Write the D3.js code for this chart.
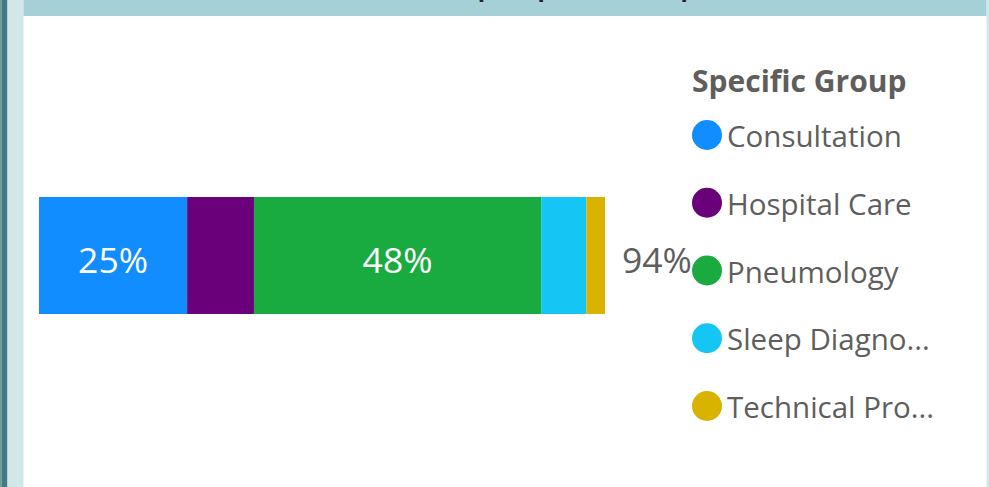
<!DOCTYPE html>
<html>
<head>
<meta charset="utf-8">
<script src="https://cdn.jsdelivr.net/npm/d3@7"></script>
<style>
  body { margin: 0; background: #ffffff; }
  svg { display: block; font-family: "Open Sans", "Noto Sans", sans-serif; }
</style>
</head>
<body>
<div id="container"></div>
<script>
// data (percent of total)
const groups = ['Consultation', 'Hospital Care', 'Pneumology', 'Sleep Diagnostics', 'Technical Procedures']
const legendLabels = ['Consultation', 'Hospital Care', 'Pneumology', 'Sleep Diagno...', 'Technical Pro...']
const shares = [24.6, 11.1, 47.7, 7.5, 3.1]
const colors = ['#118DFF', '#6B007B', '#1AAB40', '#15C6F4', '#D9B300']
const legendTitle = 'Specific Group'
const chartTitle = 'Net Amount per Specific Group'

const width = 989
const height = 487

const svg = d3.select('#container').append('svg')
  .attr('width', width)
  .attr('height', height)

// frame: left strips, header band, right edge
svg.append('rect').attr('x', 0).attr('y', 0).attr('width', 1.5).attr('height', height).attr('fill', '#6a9a9f')
svg.append('rect').attr('x', 1.5).attr('y', 0).attr('width', 6).attr('height', height).attr('fill', '#3f7b81')
svg.append('rect').attr('x', 7.5).attr('y', 0).attr('width', 16).attr('height', height).attr('fill', '#d1e7ea')
svg.append('rect').attr('x', 986.5).attr('y', 0).attr('width', 3).attr('height', height).attr('fill', '#d1e7ea')
svg.append('rect').attr('x', 23.5).attr('y', 0).attr('width', 963).attr('height', 16).attr('fill', '#a6d0d7')

// title sits above the visible area, only the descenders peek in (as in the reference)
svg.append('text')
  .attr('x', 510)
  .attr('y', -4)
  .attr('text-anchor', 'middle')
  .attr('font-size', 24)
  .attr('font-weight', 'bold')
  .attr('fill', '#252423')
  .text(chartTitle)

const total = d3.sum(shares)
const ends = d3.cumsum(shares)
const segments = shares.map((v, i) => ({
  group: groups[i],
  value: v,
  start: ends[i] - v,
  end: ends[i],
  color: colors[i]
}))

const x = d3.scaleLinear()
  .domain([0, total])
  .range([39, 605])

const y = d3.scaleBand()
  .domain(['all'])
  .range([197, 314])
  .padding(0)

svg.selectAll('rect.bar')
  .data(segments)
  .enter()
  .append('rect')
  .attr('class', 'bar')
  .attr('x', d => x(d.start))
  .attr('y', y('all'))
  .attr('width', d => x(d.end) - x(d.start))
  .attr('height', y.bandwidth())
  .attr('fill', d => d.color)

const labelY = y('all') + y.bandwidth() / 2 + 17

svg.selectAll('text.seg')
  .data(segments.filter(d => x(d.end) - x(d.start) > 80))
  .enter()
  .append('text')
  .attr('class', 'seg')
  .attr('x', d => (x(d.start) + x(d.end)) / 2)
  .attr('y', labelY)
  .attr('text-anchor', 'middle')
  .attr('font-size', 35.5)
  .attr('fill', '#ffffff')
  .text(d => Math.round(d.value) + '%')

svg.append('text')
  .attr('x', x(total) + 17)
  .attr('y', labelY)
  .attr('font-size', 35.5)
  .attr('fill', '#605E5C')
  .text(Math.round(total) + '%')

// legend
const legend = svg.append('g').attr('transform', 'translate(692,0)')

legend.append('text')
  .attr('x', 0)
  .attr('y', 92)
  .attr('font-size', 30)
  .attr('font-weight', 'bold')
  .attr('fill', '#605E5C')
  .text(legendTitle)

const ly = d3.scalePoint()
  .domain(groups)
  .range([135, 406])

const items = legend.selectAll('g.item')
  .data(segments)
  .enter()
  .append('g')
  .attr('class', 'item')
  .attr('transform', d => `translate(0,${ly(d.group)})`)

items.append('circle')
  .attr('cx', 15)
  .attr('cy', 0)
  .attr('r', 15)
  .attr('fill', d => d.color)

items.append('text')
  .attr('x', 35)
  .attr('y', 12)
  .attr('font-size', 29.5)
  .attr('fill', '#605E5C')
  .text((d, i) => legendLabels[i])
</script>
</body>
</html>
